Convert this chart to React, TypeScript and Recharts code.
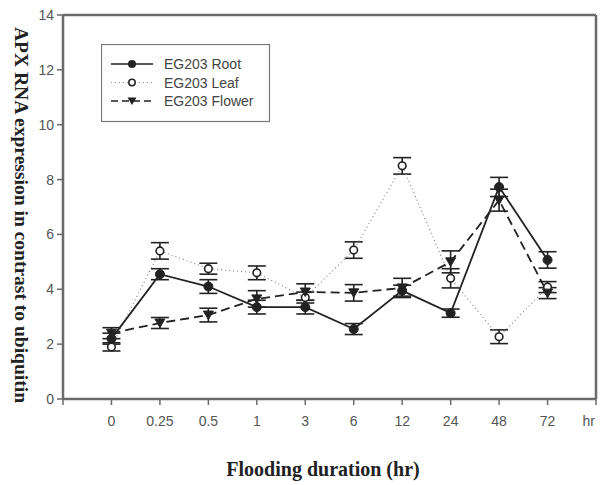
import React from "react";
import {
  LineChart,
  Line,
  XAxis,
  YAxis,
  ErrorBar,
  ReferenceLine,
  Legend,
} from "recharts";

const times = ["0", "0.25", "0.5", "1", "3", "6", "12", "24", "48", "72"];
const rootMean = [2.2, 4.55, 4.1, 3.35, 3.35, 2.55, 3.95, 3.13, 7.73, 5.07];
const rootErr = [0.2, 0.2, 0.25, 0.25, 0.25, 0.2, 0.2, 0.15, 0.35, 0.3];
const leafMean = [1.9, 5.4, 4.75, 4.6, 3.7, 5.43, 8.5, 4.4, 2.27, 4.08];
const leafErr = [0.15, 0.3, 0.2, 0.25, 0.2, 0.3, 0.3, 0.35, 0.25, 0.2];
const flowerMean = [2.4, 2.77, 3.06, 3.65, 3.9, 3.87, 4.05, 5.0, 7.25, 3.86];
const flowerErr = [0.2, 0.2, 0.25, 0.3, 0.3, 0.3, 0.35, 0.4, 0.4, 0.2];
const seriesNames = ["EG203 Root", "EG203 Leaf", "EG203 Flower"];
const yTicks = [0, 2, 4, 6, 8, 10, 12, 14];
const xTicks = [-1, 0, 1, 2, 3, 4, 5, 6, 7, 8, 9, 10];
const unitLabel = "hr";
const xTitle = "Flooding duration (hr)";
const yTitle = "APX RNA expression in contrast to ubiquitin";

const data = times.map((t, i) => ({
  idx: i,
  label: t,
  root: rootMean[i],
  rootErr: rootErr[i],
  leaf: leafMean[i],
  leafErr: leafErr[i],
  flower: flowerMean[i],
  flowerErr: flowerErr[i],
}));

const INK = "#222";
const AXIS = "#6a6a6a";
const SANS = "Liberation Sans, Arial";

const RootDot = (p: any) => {
  if (p.cx == null || p.cy == null) return null;
  return <circle key={`r${p.index}`} cx={p.cx} cy={p.cy} r={4.5} fill={INK} stroke={INK} />;
};
const LeafDot = (p: any) => {
  if (p.cx == null || p.cy == null) return null;
  return (
    <circle key={`l${p.index}`} cx={p.cx} cy={p.cy} r={3.8} fill="#fff" stroke={INK} strokeWidth={1.6} />
  );
};
const FlowerDot = (p: any) => {
  if (p.cx == null || p.cy == null) return null;
  const s = 5;
  return (
    <path
      key={`f${p.index}`}
      d={`M${p.cx - s},${p.cy - s * 0.8} L${p.cx + s},${p.cy - s * 0.8} L${p.cx},${p.cy + s * 0.9} Z`}
      fill={INK}
      stroke={INK}
    />
  );
};

const XTick = (props: any) => {
  const { x, y, payload } = props;
  const v = payload.value;
  if (v === 10) {
    return (
      <text x={x - 1} y={y + 19} textAnchor="end" fontFamily={SANS} fontSize={14} fill="#555">
        {unitLabel}
      </text>
    );
  }
  if (v < 0 || v > 9) return null;
  return (
    <text x={x} y={y + 19} textAnchor="middle" fontFamily={SANS} fontSize={14} fill="#555">
      {times[v]}
    </text>
  );
};

const LegendBox = () => {
  const rows = [
    { name: seriesNames[0], dash: undefined, kind: "root" },
    { name: seriesNames[1], dash: "1 3", kind: "leaf" },
    { name: seriesNames[2], dash: "7 4", kind: "flower" },
  ];
  return (
    <svg width={170} height={79} style={{ display: "block" }}>
      <rect x={0.5} y={0.5} width={168} height={77} fill="#fff" stroke="#777" strokeWidth={1.2} />
      {rows.map((r, i) => {
        const cy = 20 + i * 18.5;
        const cx = 31;
        return (
          <g key={r.name}>
            <line
              x1={10}
              x2={52}
              y1={cy}
              y2={cy}
              stroke={r.kind === "leaf" ? "#999" : INK}
              strokeWidth={r.kind === "leaf" ? 1 : 1.5}
              strokeDasharray={r.dash}
            />
            {r.kind === "root" && <circle cx={cx} cy={cy} r={4} fill={INK} />}
            {r.kind === "leaf" && <circle cx={cx} cy={cy} r={3.2} fill="#fff" stroke={INK} strokeWidth={1.5} />}
            {r.kind === "flower" && (
              <path d={`M${cx - 4.5},${cy - 3.5} L${cx + 4.5},${cy - 3.5} L${cx},${cy + 4} Z`} fill={INK} />
            )}
            <text x={63} y={cy + 5} fontFamily={SANS} fontSize={14} fill="#444">
              {r.name}
            </text>
          </g>
        );
      })}
    </svg>
  );
};

export default function App() {
  return (
    <div style={{ position: "absolute", left: 0, top: 0, width: 600, height: 485, background: "#fff" }}>
      <LineChart
        width={600}
        height={485}
        data={data}
        margin={{ top: 15, right: 4, left: 0, bottom: 0 }}
      >
        <XAxis
          dataKey="idx"
          type="number"
          domain={[-1, 10]}
          ticks={xTicks}
          interval={0}
          height={86}
          tick={<XTick />}
          tickSize={6}
          axisLine={{ stroke: AXIS, strokeWidth: 2.5 }}
          tickLine={{ stroke: AXIS, strokeWidth: 1.5 }}
        />
        <YAxis
          type="number"
          domain={[0, 14]}
          ticks={yTicks}
          width={63}
          tickSize={6}
          tickMargin={3}
          axisLine={{ stroke: AXIS, strokeWidth: 2.5 }}
          tickLine={{ stroke: AXIS, strokeWidth: 1.5 }}
          tick={{ fontFamily: SANS, fontSize: 14, fill: "#555" }}
        />
        <ReferenceLine y={14} stroke={AXIS} strokeWidth={2.5} ifOverflow="visible" />
        <ReferenceLine x={10} stroke={AXIS} strokeWidth={2.5} ifOverflow="visible" />
        <Line
          dataKey="leaf"
          name={seriesNames[1]}
          stroke="#888"
          strokeWidth={1.2}
          strokeDasharray="1 3"
          dot={<LeafDot />}
          isAnimationActive={false}
        >
          <ErrorBar dataKey="leafErr" direction="y" width={9} stroke={INK} strokeWidth={1.6} />
        </Line>
        <Line
          dataKey="flower"
          name={seriesNames[2]}
          stroke={INK}
          strokeWidth={1.8}
          strokeDasharray="9 5"
          dot={<FlowerDot />}
          isAnimationActive={false}
        >
          <ErrorBar dataKey="flowerErr" direction="y" width={9} stroke={INK} strokeWidth={1.6} />
        </Line>
        <Line
          dataKey="root"
          name={seriesNames[0]}
          stroke={INK}
          strokeWidth={1.8}
          dot={<RootDot />}
          isAnimationActive={false}
        >
          <ErrorBar dataKey="rootErr" direction="y" width={9} stroke={INK} strokeWidth={1.6} />
        </Line>
        <Legend
          layout="horizontal"
          verticalAlign="middle"
          align="center"
          content={() => <LegendBox />}
          wrapperStyle={{ position: "absolute", left: 101, top: 44, width: 170, height: 79 }}
        />
        <text
          x={19}
          y={215}
          transform="rotate(90 19 215)"
          textAnchor="middle"
          dominantBaseline="middle"
          fontFamily="Liberation Serif, Times New Roman, serif"
          fontWeight="bold"
          fontSize={18}
          textLength={376}
          lengthAdjust="spacingAndGlyphs"
          fill="#222"
        >
          {yTitle}
        </text>
        <text
          x={323}
          y={476}
          textAnchor="middle"
          fontFamily="Liberation Serif, Times New Roman, serif"
          fontWeight="bold"
          fontSize={20}
          fill="#222"
        >
          {xTitle}
        </text>
      </LineChart>
    </div>
  );
}
